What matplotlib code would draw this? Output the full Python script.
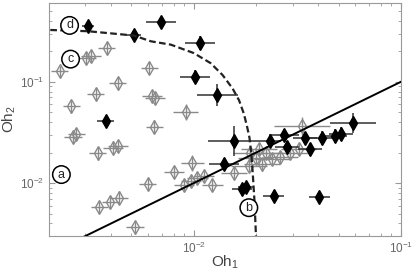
import numpy as np
import matplotlib
matplotlib.use("Agg")
import matplotlib.pyplot as plt

plt.rcParams['font.family'] = ['Liberation Sans', 'DejaVu Sans']
plt.rcParams['mathtext.fontset'] = 'custom'
plt.rcParams['mathtext.rm'] = 'Liberation Sans'
plt.rcParams['mathtext.it'] = 'Liberation Sans:italic'

# ---- filled (black) data points: Oh1, Oh2, multiplicative error factors ----
black_oh1 = [0.00308, 0.00693, 0.00513, 0.01069, 0.01014, 0.0130, 0.003754,
             0.01563, 0.02344, 0.02716, 0.02821, 0.03455, 0.0363, 0.0416,
             0.0482, 0.0515, 0.0586, 0.0140, 0.01714, 0.01787, 0.0243, 0.0404]
black_oh2 = [0.355, 0.389, 0.293, 0.241, 0.1127, 0.0736, 0.0414,
             0.0261, 0.0258, 0.0297, 0.0228, 0.0280, 0.0215, 0.0277,
             0.0290, 0.0305, 0.0389, 0.0153, 0.0087, 0.00916, 0.00745, 0.00728]
black_xfac = [1.07, 1.18, 1.09, 1.18, 1.18, 1.26, 1.10,
              1.33, 1.12, 1.18, 1.14, 1.14, 1.14, 1.18,
              1.14, 1.14, 1.29, 1.18, 1.12, 1.09, 1.12, 1.12]
black_yfac = [1.12, 1.12, 1.12, 1.17, 1.15, 1.29, 1.12,
              1.41, 1.12, 1.15, 1.15, 1.15, 1.15, 1.17,
              1.17, 1.17, 1.26, 1.15, 1.12, 1.12, 1.15, 1.12]

# ---- open (gray) data points ----
gray_oh1 = [0.002251, 0.003027, 0.003199, 0.003796, 0.006096, 0.004297, 0.00336,
            0.00628, 0.00649, 0.002564, 0.00915, 0.00644, 0.002612, 0.00271,
            0.003443, 0.004064, 0.004297, 0.005989, 0.00986, 0.00801, 0.00898,
            0.00967, 0.01042, 0.01117, 0.003506, 0.003946, 0.004358, 0.005203,
            0.0123, 0.01563, 0.01879, 0.01845, 0.0206, 0.0214, 0.0239, 0.0262,
            0.02925, 0.03206, 0.0333, 0.01987, 0.02244]
gray_oh2 = [0.1265, 0.1714, 0.1807, 0.2158, 0.1361, 0.0964, 0.0762,
            0.0719, 0.0695, 0.0571, 0.0501, 0.0361, 0.0286, 0.0307,
            0.0196, 0.0224, 0.0233, 0.00977, 0.01575, 0.0128, 0.00964,
            0.0104, 0.0112, 0.01167, 0.00578, 0.00649, 0.00719, 0.00365,
            0.00964, 0.0126, 0.01995, 0.0147, 0.0216, 0.01528, 0.01726, 0.01807,
            0.01995, 0.0216, 0.0369, 0.01766, 0.0198]
gray_xfac = [1.10, 1.12, 1.12, 1.10, 1.10, 1.10, 1.10,
             1.12, 1.12, 1.10, 1.15, 1.10, 1.10, 1.10,
             1.10, 1.12, 1.12, 1.10, 1.14, 1.12, 1.12,
             1.12, 1.12, 1.12, 1.10, 1.10, 1.10, 1.10,
             1.12, 1.15, 1.22, 1.22, 1.22, 1.22, 1.22, 1.22,
             1.22, 1.22, 1.36, 1.22, 1.22]
gray_yfac = [1.14, 1.14, 1.14, 1.15, 1.15, 1.15, 1.15,
             1.15, 1.15, 1.15, 1.20, 1.15, 1.15, 1.15,
             1.15, 1.15, 1.15, 1.15, 1.20, 1.15, 1.15,
             1.15, 1.15, 1.15, 1.15, 1.15, 1.15, 1.15,
             1.15, 1.15, 1.15, 1.15, 1.15, 1.15, 1.15, 1.15,
             1.15, 1.15, 1.23, 1.15, 1.15]

# ---- dashed boundary curve ----
curve_oh1 = [0.00203, 0.003093, 0.005146, 0.006213, 0.00775, 0.0100, 0.01207,
             0.01378, 0.0154, 0.01655, 0.01746, 0.01812, 0.01858, 0.01901,
             0.01932, 0.01965, 0.0200]
curve_oh2 = [0.325, 0.316, 0.2864, 0.2512, 0.2328, 0.1923, 0.1528,
             0.1166, 0.0859, 0.0656, 0.0483, 0.0355, 0.028, 0.0185,
             0.0114, 0.00656, 0.0028]

# ---- solid line Oh2 = Oh1 ----
line_oh1 = [0.002, 0.1]
line_oh2 = [0.002, 0.1]

# ---- circled labels ----
label_text = ['a', 'b', 'c', 'd']
label_oh1 = [0.002296, 0.01845, 0.002543, 0.002515]
label_oh2 = [0.01213, 0.00571, 0.1675, 0.3606]


def asym(v, f):
    v = np.asarray(v, float)
    f = np.asarray(f, float)
    return np.vstack([v - v / f, v * f - v])


fig = plt.figure(figsize=(4.15, 2.76), dpi=100)
ax = fig.add_axes([0.118, 0.145, 0.848, 0.844])
ax.set_xscale('log')
ax.set_yscale('log')

ax.errorbar(gray_oh1, gray_oh2, xerr=asym(gray_oh1, gray_xfac),
            yerr=asym(gray_oh2, gray_yfac), fmt='d', ms=7, mfc='none',
            mec='#8a8a8a', mew=1.0, ecolor='#8a8a8a', elinewidth=1.0,
            capsize=0, zorder=2)

ax.errorbar(black_oh1, black_oh2, xerr=asym(black_oh1, black_xfac),
            yerr=asym(black_oh2, black_yfac), fmt='d', ms=7, mfc='black',
            mec='black', ecolor='#303030', elinewidth=1.1, capsize=0, zorder=3)

ax.plot(line_oh1, line_oh2, '-', color='black', lw=1.4, zorder=4)
ax.plot(curve_oh1, curve_oh2, color='#222222', lw=1.6, dashes=(3, 1.5), zorder=4)

for t, xx, yy in zip(label_text, label_oh1, label_oh2):
    ax.text(xx, yy, t, fontsize=9, ha='center', va='center', color='#222222',
            bbox=dict(boxstyle='circle,pad=0.22', fc='white', ec='black', lw=1.1),
            zorder=5)

ax.set_xlim(0.002, 0.1)
ax.set_ylim(0.003, 0.6)

ax.tick_params(which='both', direction='in', top=True, right=True,
               colors='#999999', labelcolor='#666666', labelsize=8.5)
ax.tick_params(which='major', length=4)
ax.tick_params(which='minor', length=2)
for s in ax.spines.values():
    s.set_color('#999999')
    s.set_linewidth(0.8)

ax.set_xlabel('Oh$_1$', fontsize=11, color='#444444', va='center')
ax.set_ylabel('Oh$_2$', fontsize=11, color='#444444', va='center')
ax.xaxis.set_label_coords(0.5, -0.115)
ax.yaxis.set_label_coords(-0.112, 0.5)

fig.savefig('out.png', dpi=100)
